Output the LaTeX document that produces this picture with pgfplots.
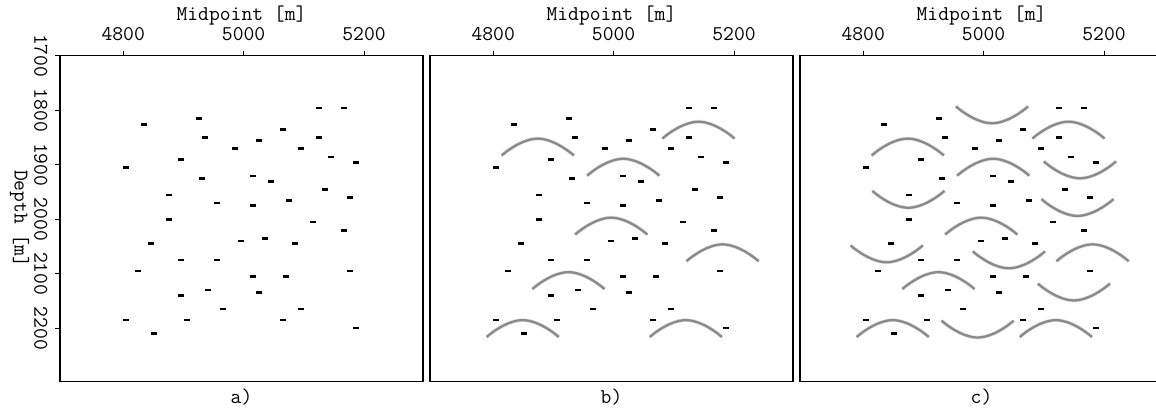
\documentclass[border=0pt]{standalone}
\usepackage{pgfplots}
\pgfplotsset{compat=1.18}
\usepackage{pgfplotstable}

% short horizontal reflector segments (midpoint, depth)
\pgfplotstableread{
x y
4835 1826
4926 1815
5066 1835
4936 1850
5025 1856
5125 1850
4986 1870
5095 1870
4896 1890
5187 1896
4805 1905
4931 1925
5046 1931
5135 1946
5177 1960
5016 1975
5076 1966
4876 2001
5167 2021
4846 2045
5036 2035
5085 2045
5016 2105
5070 2105
4896 2140
5026 2134
4851 2210
}\thickseg
\pgfplotstableread{
x y
5125 1796
5166 1796
5145 1886
5016 1921
4876 1955
4956 1970
5115 2005
4996 2040
4896 2075
4956 2075
4825 2095
5177 2095
4941 2130
4966 2165
5095 2165
4805 2185
4906 2185
5066 2185
5187 2199
}\thinseg

% one migration arc, relative to its apex (offset [m], depth change [m])
\pgfplotstableread{
dx dy
-60 31
-54 25.6
-48 20.7
-42 16.3
-36 12.4
-30 8.9
-24 6.0
-18 3.6
-12 1.7
-6 0.5
0 0
6 0.5
12 1.7
18 3.6
24 6.0
30 8.9
36 12.4
42 16.3
48 20.7
54 25.6
60 31
}\arcshape

\newcommand{\labelfont}{\ttfamily\fontsize{21}{22}\selectfont}

\pgfplotsset{
  panel/.style={
    scale only axis, width=363pt, height=326pt,
    xmin=4695, xmax=5298, ymin=1700, ymax=2298, y dir=reverse,
    axis line style={black, line width=1.2pt},
    tick align=outside, major tick length=5pt,
    tick style={black, line width=0.8pt},
    xtick={4800,5000,5200}, xticklabels={4800,5000,5200},
    xtick pos=right, xticklabel pos=right,
    ytick pos=left,
    ticklabel style={font=\labelfont},
    xticklabel shift=6pt,
    xlabel={Midpoint [m]}, label style={font=\labelfont},
    xlabel style={yshift=-4pt},
    clip mode=individual,
  },
  arc/.style={draw=black!46, line width=2.3pt, line cap=butt, line join=round,
    smooth, tension=0.5,
    preaction={draw=black!12, line width=3.6pt}},
  thickdash/.style={only marks, mark=-, mark size=3pt,
    mark options={line width=2.7pt, draw=black}},
  thindash/.style={only marks, mark=-, mark size=3pt,
    mark options={line width=1.8pt, draw=black}},
}

% arc placed at its apex (downward-curving) or lowest point (upward-curving)
\newcommand{\frownat}[2]{\addplot[arc] table[x expr=\thisrow{dx}+#1, y expr=#2+\thisrow{dy}]{\arcshape};}
\newcommand{\smileat}[2]{\addplot[arc] table[x expr=\thisrow{dx}+#1, y expr=#2-\thisrow{dy}]{\arcshape};}

\newcommand{\allfrowns}{%
  \frownat{4874}{1852}\frownat{5016}{1889}\frownat{5141}{1821}\frownat{4996}{1997}%
  \frownat{5181}{2046}\frownat{4925}{2097}\frownat{4849}{2185}\frownat{5120}{2185}}
\newcommand{\allsmiles}{%
  \smileat{5014}{1824}\smileat{5160}{1925}\smileat{4875}{1979}\smileat{5156}{1994}%
  \smileat{4839}{2079}\smileat{5042}{2090}\smileat{5150}{2149}\smileat{4990}{2217}}
\newcommand{\segments}{%
  \addplot[thickdash] table {\thickseg};
  \addplot[thindash] table {\thinseg};}
\newcommand{\panellabel}[1]{%
  \node[font=\labelfont, anchor=north] at (rel axis cs:0.5,0) [yshift=-4pt] {#1};}

\begin{document}
\begin{tikzpicture}
\useasboundingbox (0,0) rectangle (1156pt,410pt);

% a) reflectivity model
\begin{axis}[panel, at={(60pt,28.3pt)}, anchor=south west,
  ytick={1700,1800,1900,2000,2100,2200},
  yticklabels={1700,1800,1900,2000,2100,2200},
  yticklabel style={rotate=-90, anchor=north},
  yticklabel shift=4pt,
  ylabel={Depth [m]}, ylabel style={rotate=180, yshift=2pt}]
  \segments
  \panellabel{a)}
\end{axis}

% b) with downward arcs
\begin{axis}[panel, at={(430pt,28.3pt)}, anchor=south west, ytick=\empty]
  \allfrowns
  \segments
  \panellabel{b)}
\end{axis}

% c) with downward and upward arcs
\begin{axis}[panel, at={(800pt,28.3pt)}, anchor=south west, ytick=\empty]
  \allfrowns
  \allsmiles
  \segments
  \panellabel{c)}
\end{axis}
\end{tikzpicture}
\end{document}
